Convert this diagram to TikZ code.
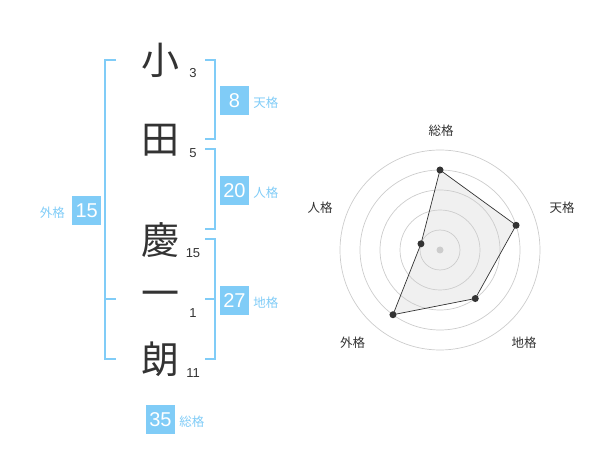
\documentclass[tikz,border=0pt]{standalone}
\usepackage{fontspec}
\setmainfont{Liberation Sans}
\newfontfamily\jp{Noto Sans CJK JP}
\usetikzlibrary{positioning}
\definecolor{kaku}{HTML}{80CCF7}
\definecolor{ink}{HTML}{333333}
\definecolor{grid}{HTML}{CCCCCC}

\begin{document}
\begin{tikzpicture}[x=1pt,y=-1pt]
\tikzstyle{kanji}=[text=ink,font=\jp\fontsize{38}{38}\selectfont,inner sep=0pt]
\tikzstyle{strokes}=[text=ink,font=\fontsize{13}{13}\selectfont,inner sep=0pt]
\tikzstyle{kakubox}=[fill=kaku,text=white,font=\fontsize{20}{20}\selectfont,
minimum size=29pt,inner sep=0pt]
\tikzstyle{kakulabel}=[text=kaku,font=\jp\fontsize{12.5}{12.5}\selectfont,inner sep=0pt]
\tikzstyle{bracket}=[draw=kaku,line width=2pt]
\tikzstyle{ring}=[draw=grid,line width=0.7pt]
\tikzstyle{dot}=[circle,fill=ink,inner sep=0pt,minimum size=7pt]
\tikzstyle{axis label}=[text=ink,font=\jp\fontsize{12.5}{12.5}\selectfont,inner sep=0pt]

\useasboundingbox (0,0) rectangle (600,470);

% name and stroke counts
\node[kanji] (sho) at (160,60) {小};
\node[kanji] (den) at (160,140) {田};
\node[kanji] (kei) at (160,240) {慶};
\node[kanji] (ichi) at (160,299) {一};
\node[kanji] (rou) at (160,359) {朗};
\node[strokes] (sho count) at (193,72.7) {3};
\node[strokes] (den count) at (193,152.7) {5};
\node[strokes] (kei count) at (193,252.7) {15};
\node[strokes] (ichi count) at (193,312.7) {1};
\node[strokes] (rou count) at (193,373.3) {11};

% brackets
\draw[bracket] (205,60) -- (215,60) -- (215,139.3) -- (205,139.3);
\draw[bracket] (205,149.3) -- (215,149.3) -- (215,229.3) -- (205,229.3);
\draw[bracket] (205,239.3) -- (215,239.3) -- (215,359.3) -- (205,359.3);
\draw[bracket] (205,299.3) -- (215,299.3);
\draw[bracket] (116,60) -- (105,60) -- (105,359.3) -- (116,359.3);
\draw[bracket] (105,299.3) -- (116,299.3);

% scores
\node[kakubox] (tenkaku box) at (234.5,100.5) {8};
\node[kakubox] (jinkaku box) at (234.5,190.5) {20};
\node[kakubox] (chikaku box) at (234.5,300.5) {27};
\node[kakubox] (gaikaku box) at (86.7,210.5) {15};
\node[kakubox] (soukaku box) at (160.5,419.5) {35};
\node[kakulabel] (tenkaku label) [base right=4pt of tenkaku box] {天格};
\node[kakulabel] (jinkaku label) [base right=4pt of jinkaku box] {人格};
\node[kakulabel] (chikaku label) [base right=4pt of chikaku box] {地格};
\node[kakulabel] (gaikaku label) [base left=7pt of gaikaku box] {外格};
\node[kakulabel] (soukaku label) [base right=4pt of soukaku box] {総格};

% radar chart
\begin{scope}[shift={(440,250)},y=1pt]
\coordinate (soukaku) at (90:80);
\coordinate (tenkaku) at (18:80);
\coordinate (chikaku) at (-54:60);
\coordinate (gaikaku) at (-126:80);
\coordinate (jinkaku) at (162:20);
\fill[black,fill opacity=0.06] (soukaku) -- (tenkaku) -- (chikaku)
-- (gaikaku) -- (jinkaku) -- cycle;
\foreach \r in {20,40,...,100}
  \draw[ring] (0,0) circle (\r pt);
\fill[grid] (0,0) circle (3.5pt);
\draw[ink,line width=0.7pt] (soukaku) -- (tenkaku) -- (chikaku)
-- (gaikaku) -- (jinkaku) -- cycle;
\foreach \p in {soukaku,tenkaku,chikaku,gaikaku,jinkaku}
  \node[dot] (\p dot) at (\p) {};
\node[axis label] (soukaku axis) at (1,119) {総格};
\node[axis label] (tenkaku axis) at (122,42) {天格};
\node[axis label] (chikaku axis) at (84,-92.5) {地格};
\node[axis label] (gaikaku axis) at (-87.5,-92.5) {外格};
\node[axis label] (jinkaku axis) at (-120,42) {人格};
\end{scope}
\end{tikzpicture}
\end{document}
